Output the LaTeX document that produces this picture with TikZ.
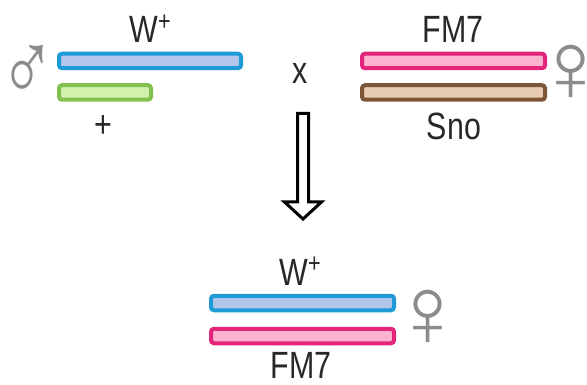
\documentclass[tikz,border=0pt]{standalone}
\usepackage{fontspec}
\usepackage{graphicx}
\setmainfont{Liberation Sans}
\newfontfamily\gsym{Liberation Sans}
\definecolor{txt}{RGB}{40,40,40}
\definecolor{blueline}{RGB}{30,155,215}
\definecolor{bluefill}{RGB}{178,198,236}
\definecolor{greenline}{RGB}{130,192,80}
\definecolor{greenfill}{RGB}{208,242,172}
\definecolor{pinkline}{RGB}{226,36,122}
\definecolor{pinkfill}{RGB}{250,178,206}
\definecolor{brownline}{RGB}{125,86,56}
\definecolor{brownfill}{RGB}{232,204,178}
\definecolor{symgray}{RGB}{140,140,140}
\newcommand{\lbl}[1]{\scalebox{0.8}[1]{\fontsize{38}{40}\selectfont #1}}
\newcommand{\wplus}{W\raisebox{0.33em}{\fontsize{27}{27}\selectfont +}}
\begin{document}
\begin{tikzpicture}[x=1pt,y=-1pt,
  chrom/.style={draw, rounded corners=3pt, line width=4pt, inner sep=0pt,
                minimum height=14.5pt},
  bluechr/.style={chrom, draw=blueline, fill=bluefill},
  greenchr/.style={chrom, draw=greenline, fill=greenfill},
  pinkchr/.style={chrom, draw=pinkline, fill=pinkfill},
  brownchr/.style={chrom, draw=brownline, fill=brownfill},
  lab/.style={text=txt, inner sep=0pt, anchor=base},
  sex/.style={text=symgray, inner sep=0pt, font=\gsym\fontsize{100}{100}\selectfont},
  hollow/.style={draw=black, fill=white, line width=3pt, line join=miter}]
\useasboundingbox (0,0) rectangle (587,385);
\clip (0,0) rectangle (587,385);

% male parent
\node[bluechr, minimum width=182pt] (mW) at (150,61) {};
\node[greenchr, minimum width=92pt] (mY) at (105,92.5) {};
\node[lab] (mWl) at (150,43) {\lbl{\wplus}};
\node[text=txt, inner sep=0pt] (mYl) at (103,127) {\lbl{+}};
\node[sex] (male) at (28,73) {\scalebox{0.75}[1]{♂}};

% cross sign
\node[text=txt, inner sep=0pt] (cross) at (300,73) {\lbl{x}};

% female parent
\node[pinkchr, minimum width=183pt] (fF) at (453.5,61) {};
\node[brownchr, minimum width=183pt] (fS) at (453.5,92.5) {};
\node[lab] (fFl) at (453,43) {\lbl{FM7}};
\node[lab] (fSl) at (454,140) {\lbl{Sno}};
\node[sex] (female) at (571,73) {♀};

% progeny
\node[bluechr, minimum width=183pt] (pW) at (302.5,303) {};
\node[pinkchr, minimum width=183pt] (pF) at (302.5,336) {};
\node[lab] (pWl) at (300,285) {\lbl{\wplus}};
\node[lab] (pFl) at (301,378) {\lbl{FM7}};
\node[sex] (pfem) at (428,318) {♀};

% hollow downward arrow
\coordinate (aTop) at (303,113.5);
\coordinate (aTip) at (303,219);
\draw[hollow] ([xshift=-5.5pt]aTop) -- ([xshift=5.5pt]aTop)
  -- ([xshift=5.5pt]aTip |- 0,202) -- ([xshift=18.5pt]aTip |- 0,202)
  -- (aTip) -- ([xshift=-18.5pt]aTip |- 0,202)
  -- ([xshift=-5.5pt]aTip |- 0,202) -- cycle;
\end{tikzpicture}
\end{document}
